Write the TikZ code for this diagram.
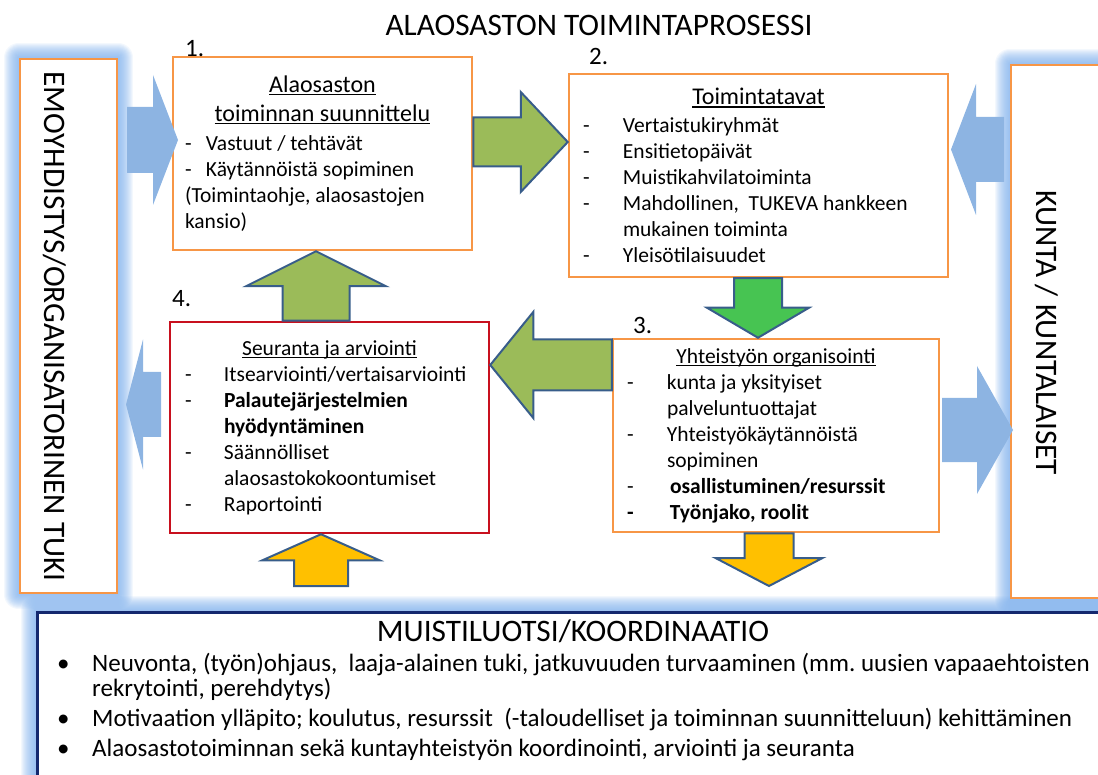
\documentclass[tikz,border=0pt]{standalone}
\usepackage{fontspec}
\setmainfont{Carlito}
\usetikzlibrary{calc}
\pgfdeclarelayer{background}
\pgfsetlayers{background,main}

\definecolor{boxorange}{RGB}{247,150,70}
\definecolor{boxred}{RGB}{200,16,30}
\definecolor{arrowblue}{RGB}{141,180,226}
\definecolor{arrowgreen}{RGB}{155,187,89}
\definecolor{arrowlime}{RGB}{71,196,82}
\definecolor{arrowyellow}{RGB}{255,192,0}
\definecolor{arrowedge}{RGB}{56,93,138}
\definecolor{guidenavy}{RGB}{20,40,110}
\definecolor{glowblue}{RGB}{125,175,236}

% natural word spaces inside ragged nodes
\newcommand\plainspaces{\frenchspacing\spaceskip=0pt\xspaceskip=0pt\relax}
% underlined, centred heading line of a box
\newcommand\hdrule[1]{\setbox0\hbox{#1}\rlap{\rule[-3pt]{\wd0}{1.3pt}}\box0}
\newcommand\boxhead[1]{\makebox[\linewidth]{\hdrule{#1}}\par}
% "-  text" lines and their continuation lines
\newcommand\dashline[2][40pt]{\makebox[#1][l]{-}\mbox{#2}\par}
\newcommand\moreline[2][40pt]{\hspace*{#1}\mbox{#2}\par}
% block arrow: style, from, to, shaft half width, head half width, head length
\newcommand\blockarrow[6]{%
  \path ($(#3)!#6!(#2)$) coordinate (ba-base);
  \draw[#1] ($(#2)!#4!90:(#3)$) -- ($(ba-base)!#4!90:(#3)$) -- ($(ba-base)!#5!90:(#3)$) -- (#3)
    -- ($(ba-base)!#5!-90:(#3)$) -- ($(ba-base)!#4!-90:(#3)$) -- ($(#2)!#4!-90:(#3)$) -- cycle;
}

\tikzset{
  procbox/.style={draw=boxorange, line width=2.5pt, fill=white, align=left,
    inner ysep=0pt, font=\fontsize{21.5}{26}\selectfont},
  sidebox/.style={draw=boxorange, line width=2.5pt, fill=white, inner sep=0pt},
  guidebox/.style={draw=guidenavy, line width=3pt, fill=white, inner sep=0pt},
  biglabel/.style={font=\fontsize{31.3}{36}\selectfont, inner sep=0pt},
  numlabel/.style={font=\fontsize{25}{30}\selectfont, anchor=base west, inner sep=0pt},
  bluearrow/.style={fill=arrowblue, draw=none},
  greenarrow/.style={fill=arrowgreen, draw=arrowedge, line width=2pt},
  limearrow/.style={fill=arrowlime, draw=arrowedge, line width=2pt},
  yellowarrow/.style={fill=arrowyellow, draw=arrowedge, line width=2pt},
  glowline/.style={glowblue, opacity=.09, line join=round}
}

\begin{document}
\begin{tikzpicture}[x=1pt,y=-1pt]
  \useasboundingbox (0,0) rectangle (1098,775);

  % title
  \node[biglabel] (title) at (599,25) {ALAOSASTON TOIMINTAPROSESSI};

  % outer frames
  \node[sidebox, minimum width=97pt, minimum height=534pt] (emo) at (68.5,326) {};
  \node[biglabel, rotate=-90] (emolbl) at (54.5,326.5) {EMOYHDISTYS/ORGANISATORINEN TUKI};
  \node[sidebox, minimum width=109pt, minimum height=533pt] (kunta) at (1065.5,331.5) {};
  \node[biglabel, rotate=-90] (kuntalbl) at (1047,333) {KUNTA / KUNTALAISET};
  \node[guidebox, minimum width=1083pt, minimum height=188pt] (guide) at (578.5,706) {};

  \begin{pgfonlayer}{background}
    \foreach \w in {2,4,...,30} {
      \draw[glowline, line width=\w pt] (emo.north west) rectangle (emo.south east);
      \draw[glowline, line width=\w pt] (kunta.north west) rectangle (kunta.south east);
      \draw[glowline, line width=\w pt] (guide.north west) rectangle (guide.south east);
    }
  \end{pgfonlayer}

  % process boxes
  \node[procbox, text width=275pt, inner xsep=12pt, minimum height=193pt] (plan) at (322.5,153.5) {\plainspaces
    {\fontsize{24}{29}\selectfont\boxhead{Alaosaston}\boxhead{toiminnan suunnittelu}}
    \vspace{3pt}
    \dashline[21pt]{Vastuut / tehtävät}
    \dashline[21pt]{Käytännöistä sopiminen}
    \mbox{(Toimintaohje, alaosastojen}\par
    kansio)\par};
  \node[procbox, text width=351pt, inner xsep=14pt, minimum height=203pt] (ways) at (758.5,175.5) {\plainspaces
    {\fontsize{24}{29}\selectfont\boxhead{Toimintatavat}}
    \vspace{2pt}
    \dashline{Vertaistukiryhmät}
    \dashline{Ensitietopäivät}
    \dashline{Muistikahvilatoiminta}
    \dashline{Mahdollinen,\ \ TUKEVA hankkeen}
    \moreline{mukainen toiminta}
    \dashline{Yleisötilaisuudet}};
  \node[procbox, text width=298pt, inner xsep=14pt, minimum height=193pt] (coop) at (776,435.5) {\plainspaces
    \boxhead{Yhteistyön organisointi}
    \dashline{kunta ja yksityiset}
    \moreline{palveluntuottajat}
    \dashline{Yhteistyökäytännöistä}
    \moreline{sopiminen}
    \dashline[43pt]{\textbf{osallistuminen/resurssit}}
    \makebox[43pt][l]{\textbf{-}}\mbox{\textbf{Työnjako, roolit}}\par};
  \node[procbox, draw=boxred, text width=289pt, inner xsep=15pt, minimum height=211pt] (eval) at (329.5,427.5) {\plainspaces
    \boxhead{Seuranta ja arviointi}
    \dashline[39pt]{Itsearviointi/vertaisarviointi}
    \dashline[39pt]{\textbf{Palautejärjestelmien}}
    \moreline[39pt]{\textbf{hyödyntäminen}}
    \dashline[39pt]{Säännölliset}
    \moreline[39pt]{alaosastokokoontumiset}
    \dashline[39pt]{Raportointi}};

  % step numbers
  \node[numlabel] (n1) at (185,57) {1.};
  \node[numlabel] (n2) at (589,65) {2.};
  \node[numlabel] (n3) at (633,334) {3.};
  \node[numlabel] (n4) at (172,307) {4.};

  % block arrows
  \coordinate (emoout) at (127,140);
  \coordinate (planin) at (178,140);
  \coordinate (kuntaout) at (1004,149.5);
  \coordinate (waysin) at (951,149.5);
  \coordinate (evalout) at (161,404.5);
  \coordinate (emoin) at (126,404.5);
  \coordinate (coopout) at (942,430);
  \coordinate (kuntain) at (1013,430);
  \coordinate (guideout) at (321,586);
  \coordinate (guidein) at (769,586);
  \blockarrow{bluearrow}{emoout}{planin}{33pt}{65pt}{25pt}
  \blockarrow{bluearrow}{kuntaout}{waysin}{32.5pt}{65.5pt}{25pt}
  \blockarrow{bluearrow}{evalout}{emoin}{32.5pt}{65pt}{17pt}
  \blockarrow{bluearrow}{coopout}{kuntain}{32pt}{64pt}{36pt}
  \blockarrow{greenarrow}{plan.east |- 0,142}{ways.west |- 0,142}{24.5pt}{50pt}{47pt}
  \blockarrow{limearrow}{758,0 |- ways.south}{758,0 |- coop.north}{24pt}{51pt}{30pt}
  \blockarrow{greenarrow}{coop.west |- 0,365}{eval.east |- 0,365}{25.5pt}{53pt}{43pt}
  \blockarrow{greenarrow}{316,0 |- eval.north}{316,0 |- plan.south}{33.5pt}{70pt}{35pt}
  \blockarrow{yellowarrow}{guideout}{321,0 |- eval.south}{27pt}{58.5pt}{26pt}
  \blockarrow{yellowarrow}{769,0 |- coop.south}{guidein}{24.5pt}{53.5pt}{28pt}

  % coordination box texts
  \node[biglabel] (guidetitle) at (573,631) {MUISTILUOTSI/KOORDINAATIO};
  \node[anchor=north west, inner sep=0pt, text width=1040pt, align=left,
    font=\fontsize{25}{25}\selectfont] (guidelist) at (57,653) {\plainspaces
    \makebox[35pt][l]{\textbullet}\mbox{Neuvonta, (työn)ohjaus,\ \ laaja-alainen tuki, jatkuvuuden turvaaminen (mm. uusien vapaaehtoisten}\par
    \hspace*{35pt}rekrytointi, perehdytys)\par\vspace{5pt}
    \makebox[35pt][l]{\textbullet}\mbox{Motivaation ylläpito; koulutus, resurssit\ \ (-taloudelliset ja toiminnan suunnitteluun) kehittäminen}\par\vspace{5pt}
    \makebox[35pt][l]{\textbullet}\mbox{Alaosastotoiminnan sekä kuntayhteistyön koordinointi, arviointi ja seuranta}\par};
\end{tikzpicture}
\end{document}
